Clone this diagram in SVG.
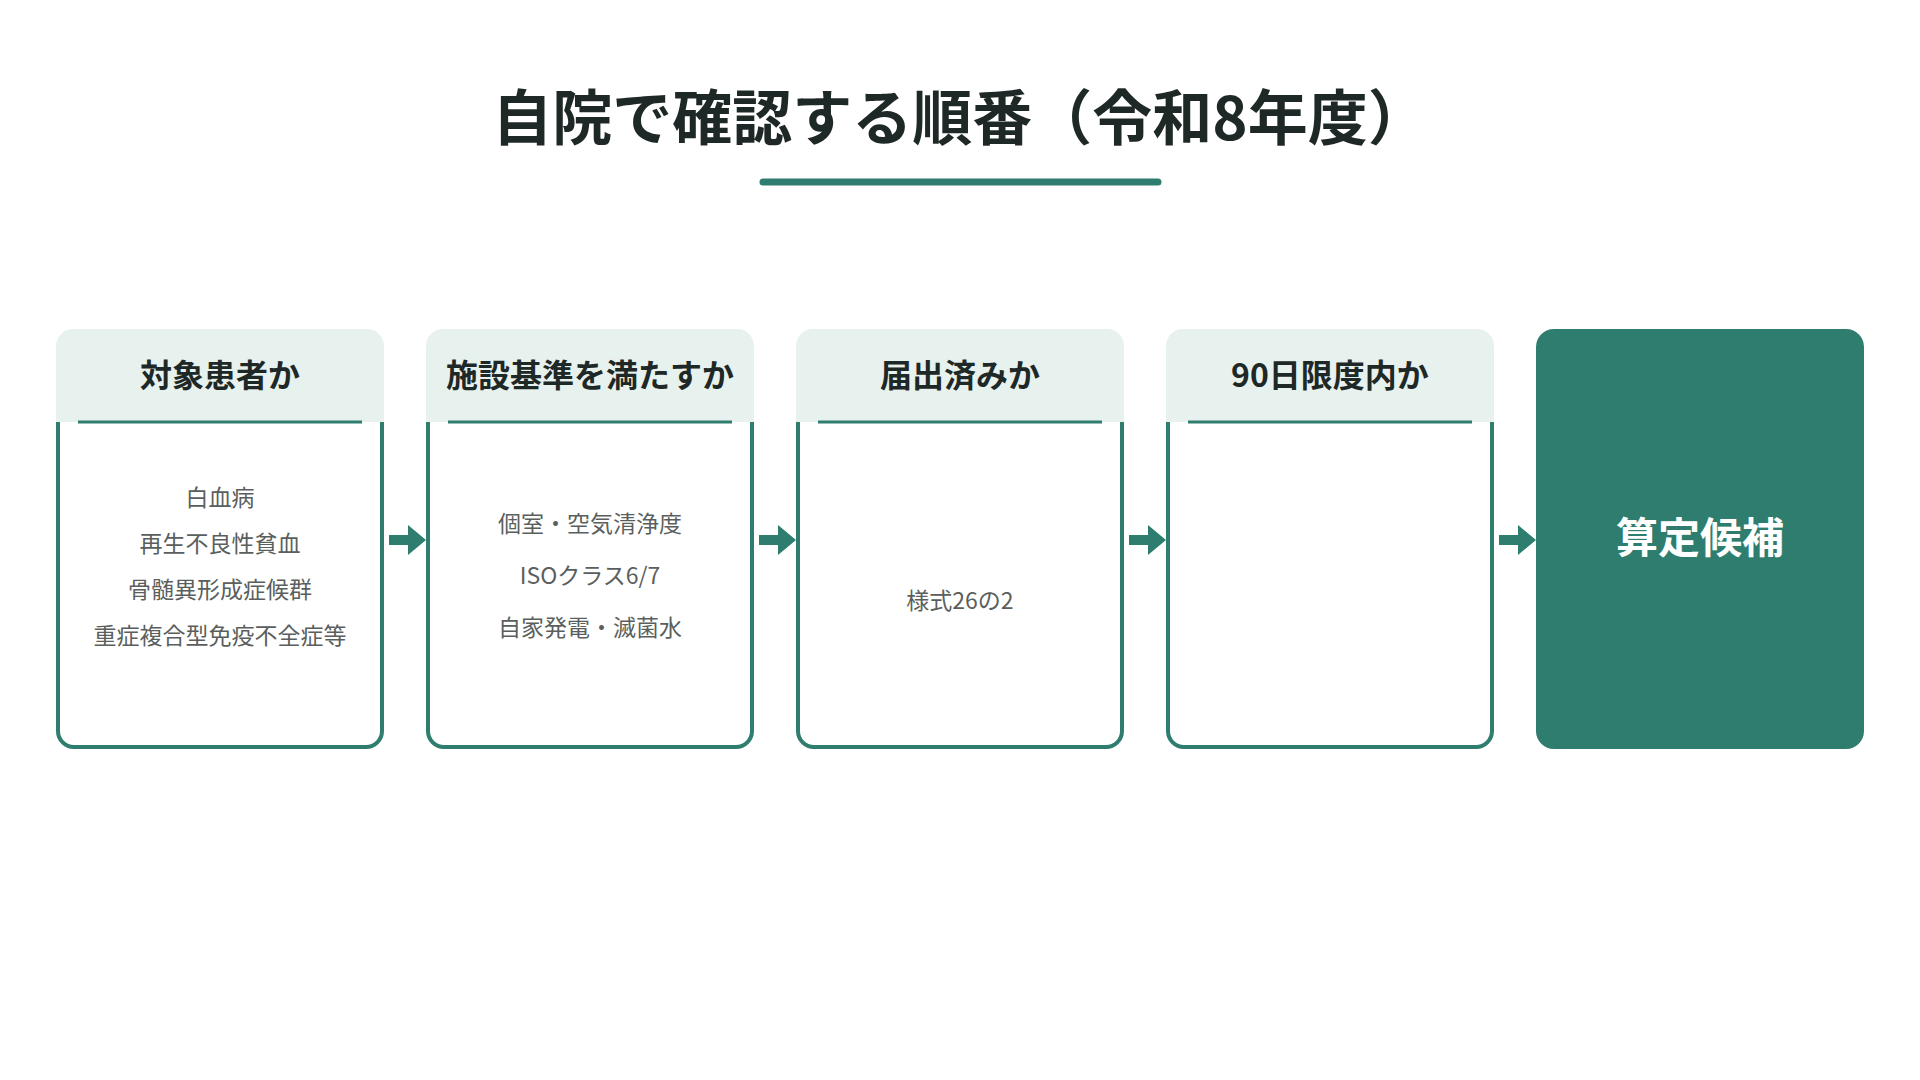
<svg xmlns="http://www.w3.org/2000/svg" width="1920" height="1080" viewBox="0 0 1920 1080">
<style>
.t{font-family:"Noto Sans CJK JP","Liberation Sans",sans-serif;text-anchor:middle}
.title{font-size:60px;font-weight:700;fill:#1e2826}
.h{font-size:32px;font-weight:700;fill:#1e2826}
.b{font-size:23px;fill:#5a5f5e}
.hdr{fill:#e7f1ed}
.body{fill:none;stroke:#2e7d6e;stroke-width:4}
.div{stroke:#2e7d6e;stroke-width:3}
.arr{fill:#2e7d6e}
</style>
<defs>
<path id="hd" class="hdr" d="M0,422 V346 A17,17 0 0 1 17,329 H311 A17,17 0 0 1 328,346 V422 Z"/>
<path id="bd" class="body" d="M2,422 V731 A16,16 0 0 0 18,747 H310 A16,16 0 0 0 326,731 V422"/>
<line id="dv" class="div" x1="22" y1="422" x2="306" y2="422"/>
</defs>
<rect width="1920" height="1080" fill="#fff"/>
<text class="t title" x="960" y="140">自院で確認する順番（令和8年度）</text>
<line x1="763" y1="182" x2="1158" y2="182" stroke="#2e7d6e" stroke-width="7" stroke-linecap="round"/>
<g id="n1" transform="translate(56,0)"><use href="#hd"/><use href="#bd"/><use href="#dv"/>
<text class="t h" x="164" y="387">対象患者か</text>
<text class="t b" x="164" y="506">白血病</text><text class="t b" x="164" y="552">再生不良性貧血</text><text class="t b" x="164" y="598">骨髄異形成症候群</text><text class="t b" x="164" y="644">重症複合型免疫不全症等</text></g>
<g id="n2" transform="translate(426,0)"><use href="#hd"/><use href="#bd"/><use href="#dv"/>
<text class="t h" x="164" y="387">施設基準を満たすか</text>
<text class="t b" x="164" y="532">個室・空気清浄度</text><text class="t b" x="164" y="584">ISOクラス6/7</text><text class="t b" x="164" y="636">自家発電・滅菌水</text></g>
<g id="n3" transform="translate(796,0)"><use href="#hd"/><use href="#bd"/><use href="#dv"/>
<text class="t h" x="164" y="387">届出済みか</text>
<text class="t b" x="164" y="609">様式26の2</text></g>
<g id="n4" transform="translate(1166,0)"><use href="#hd"/><use href="#bd"/><use href="#dv"/>
<text class="t h" x="164" y="387">90日限度内か</text></g>
<g id="n5"><rect x="1536" y="329" width="328" height="420" rx="18" fill="#2e7d6e"/>
<text class="t" x="1700" y="553" font-size="42" font-weight="700" fill="#fff">算定候補</text></g>
<g id="connectors">
<path class="arr" d="M389,535 H408 V525 L426,540 L408,555 V545 H389 Z"/>
<path class="arr" d="M759,535 H778 V525 L796,540 L778,555 V545 H759 Z"/>
<path class="arr" d="M1129,535 H1148 V525 L1166,540 L1148,555 V545 H1129 Z"/>
<path class="arr" d="M1499,535 H1518 V525 L1536,540 L1518,555 V545 H1499 Z"/>
</g>
</svg>
